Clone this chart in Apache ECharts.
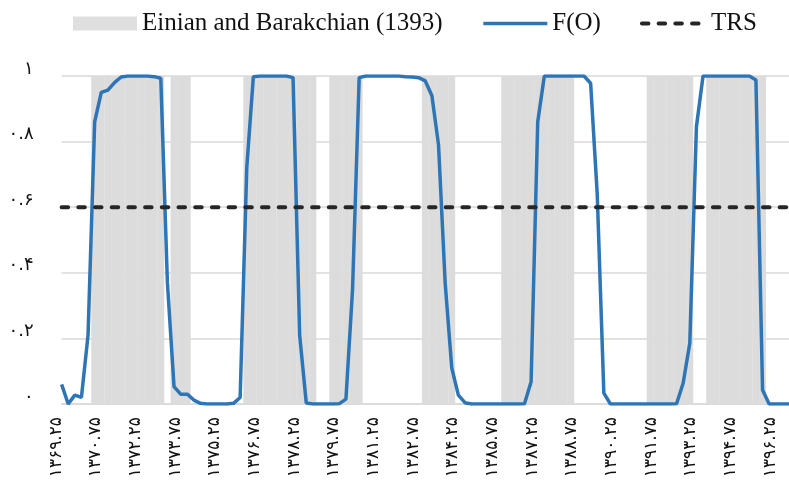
<!DOCTYPE html>
<html>
<head>
<meta charset="utf-8">
<script src="https://cdn.jsdelivr.net/npm/echarts@6/dist/echarts.min.js"></script>
<style>
html,body{margin:0;padding:0;background:#fff;}
#chart{width:789px;height:482px;}
</style>
</head>
<body>
<div id="chart"></div>
<script>
// Quarterly categories (Solar Hijri years)
const categories = [
  1369.25, 1369.5, 1369.75,
  1370, 1370.25, 1370.5, 1370.75,
  1371, 1371.25, 1371.5, 1371.75,
  1372, 1372.25, 1372.5, 1372.75,
  1373, 1373.25, 1373.5, 1373.75,
  1374, 1374.25, 1374.5, 1374.75,
  1375, 1375.25, 1375.5, 1375.75,
  1376, 1376.25, 1376.5, 1376.75,
  1377, 1377.25, 1377.5, 1377.75,
  1378, 1378.25, 1378.5, 1378.75,
  1379, 1379.25, 1379.5, 1379.75,
  1380, 1380.25, 1380.5, 1380.75,
  1381, 1381.25, 1381.5, 1381.75,
  1382, 1382.25, 1382.5, 1382.75,
  1383, 1383.25, 1383.5, 1383.75,
  1384, 1384.25, 1384.5, 1384.75,
  1385, 1385.25, 1385.5, 1385.75,
  1386, 1386.25, 1386.5, 1386.75,
  1387, 1387.25, 1387.5, 1387.75,
  1388, 1388.25, 1388.5, 1388.75,
  1389, 1389.25, 1389.5, 1389.75,
  1390, 1390.25, 1390.5, 1390.75,
  1391, 1391.25, 1391.5, 1391.75,
  1392, 1392.25, 1392.5, 1392.75,
  1393, 1393.25, 1393.5, 1393.75,
  1394, 1394.25, 1394.5, 1394.75,
  1395, 1395.25, 1395.5, 1395.75,
  1396, 1396.25, 1396.5, 1396.75
];

// F(O) probabilities per quarter
const fO = [
  0.06, 0.0, 0.027, 0.02, 0.21, 0.86, 0.95, 0.957, 0.98, 0.997,
  1, 1, 1, 1, 0.998, 0.993, 0.37, 0.053, 0.03, 0.03,
  0.012, 0.002, 0, 0, 0, 0, 0.002, 0.02, 0.72, 0.998,
  1, 1, 1, 1, 1, 0.995, 0.21, 0.003, 0, 0,
  0, 0, 0.001, 0.015, 0.35, 0.995, 1, 1, 1, 1,
  1, 1, 0.998, 0.997, 0.995, 0.985, 0.94, 0.79, 0.37, 0.11,
  0.027, 0.004, 0, 0, 0, 0, 0, 0, 0, 0,
  0.001, 0.068, 0.86, 1, 1, 1, 1, 1, 1, 1,
  0.978, 0.64, 0.033, 0, 0, 0, 0, 0, 0, 0,
  0, 0, 0, 0.001, 0.064, 0.186, 0.845, 1, 1, 1,
  1, 1, 1, 1, 1, 0.988, 0.043, 0, 0, 0,
  0
];

// Einian and Barakchian (1393) recession periods [start, end] quarters
const einianPeriods = [
  [1370.5, 1373],
  [1373.5, 1374],
  [1376.25, 1378.75],
  [1379.5, 1380.5],
  [1383, 1384],
  [1386, 1388.5],
  [1391.5, 1393],
  [1393.75, 1395.75]
];

// TRS threshold
const trsValue = 0.6;

// Y tick labels
const yTicks = [0, 0.2, 0.4, 0.6, 0.8, 1];

const seriesNames = ['Einian and Barakchian (1393)', 'F(O)', 'TRS'];

const faDigits = '۰۱۲۳۴۵۶۷۸۹';
function toFa(s) { return String(s).replace(/[0-9]/g, d => faDigits[+d]); }

const einianData = categories.map(c => einianPeriods.some(p => c >= p[0] && c <= p[1]) ? 1 : 0);
const catLabels = categories.map(c => String(c));
const trsData = [[0, trsValue], [categories.length - 1, trsValue]];

const blue = '#2e75b6';
const dark = '#262626';
const trsDash = [6.5, 10.2];

const chart = echarts.init(document.getElementById('chart'), null, {renderer: 'canvas'});
chart.setOption({
  animation: false,
  backgroundColor: '#ffffff',
  textStyle: {fontFamily: 'Liberation Serif, DejaVu Sans, serif'},
  legend: {
    left: 73,
    top: 11,
    padding: 0,
    itemWidth: 64,
    itemHeight: 14,
    itemGap: 39,
    textStyle: {fontFamily: 'Liberation Serif', fontSize: 25, color: '#111'},
    data: [
      {name: seriesNames[0], icon: 'rect', itemStyle: {color: '#e0dfdf'}},
      {name: seriesNames[1], itemStyle: {opacity: 0},
        lineStyle: {color: blue, width: 3.5}},
      {name: seriesNames[2], itemStyle: {opacity: 0},
        lineStyle: {color: dark, width: 4, type: trsDash, cap: 'round'}}
    ]
  },
  grid: {left: 61.6, width: 735.4, top: 76, height: 328, containLabel: false},
  xAxis: {
    type: 'category',
    data: catLabels,
    boundaryGap: false,
    axisLine: {show: true, lineStyle: {color: '#d9d9d9', width: 1.5}},
    axisTick: {show: false},
    splitLine: {show: false},
    axisLabel: {
      interval: 5,
      rotate: 90,
      margin: 13,
      fontSize: 17,
      color: '#111',
      fontFamily: 'DejaVu Sans',
      verticalAlign: 'bottom',
      lineHeight: 11,
      formatter: v => toFa(v)
    }
  },
  yAxis: {
    type: 'value',
    min: 0,
    max: 1,
    interval: 0.2,
    axisLine: {show: false},
    axisTick: {show: false},
    splitLine: {show: true, lineStyle: {color: '#d9d9d9', width: 1.5}},
    axisLabel: {
      margin: 28,
      fontSize: 18,
      color: '#111',
      fontFamily: 'DejaVu Sans',
      verticalAlign: 'bottom',
      lineHeight: 14,
      formatter: v => {
        const t = yTicks.find(x => Math.abs(x - v) < 1e-9);
        return toFa(t === undefined ? v : t);
      }
    }
  },
  series: [
    {
      name: seriesNames[0],
      type: 'bar',
      data: einianData,
      barWidth: '104%',
      barGap: '-100%',
      itemStyle: {color: '#dddcdc'},
      emphasis: {disabled: true},
      silent: true,
      z: 1
    },
    {
      name: seriesNames[1],
      type: 'line',
      data: fO,
      symbol: 'none',
      lineStyle: {color: blue, width: 3.5},
      itemStyle: {color: blue},
      emphasis: {disabled: true},
      z: 3
    },
    {
      name: seriesNames[2],
      type: 'line',
      data: trsData,
      symbol: 'none',
      lineStyle: {color: dark, width: 4, type: trsDash, cap: 'round'},
      itemStyle: {color: dark},
      emphasis: {disabled: true},
      z: 4
    }
  ]
});
</script>
</body>
</html>
